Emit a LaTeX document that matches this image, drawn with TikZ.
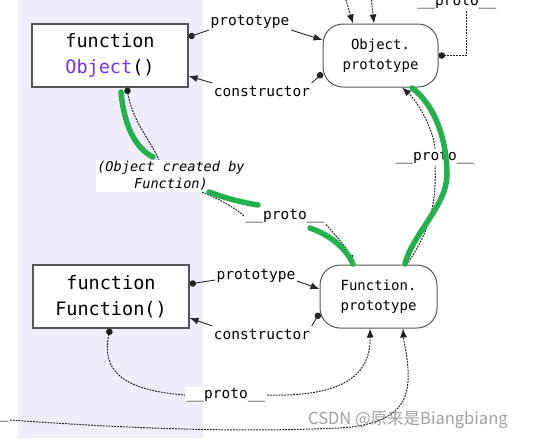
\documentclass[tikz,border=0pt]{standalone}
\usepackage{fontspec}
\setmainfont{DejaVu Sans}
\newfontfamily\monofont{DejaVu Sans Mono}
\newfontfamily\cjkfont{Noto Sans CJK SC}
\usetikzlibrary{arrows.meta}
\definecolor{band}{HTML}{F0ECFD}
\definecolor{objpurple}{HTML}{7A2FF5}
\definecolor{handgreen}{HTML}{22B24C}
\definecolor{edgegray}{HTML}{555555}
\begin{document}
\begin{tikzpicture}[x=1pt,y=-1pt,
  sqbox/.style={draw=edgegray, line width=1.1pt, fill=white, minimum width=156pt, minimum height=63pt, align=center, font=\monofont\fontsize{18.5}{26}\selectfont, inner sep=0pt},
  rbox/.style={draw=edgegray, line width=1pt, fill=white, rounded corners=20pt, minimum height=63pt, align=center, font=\monofont\fontsize{14}{20}\selectfont, inner sep=0pt},
  lbl/.style={font=\monofont\fontsize{14.5}{17}\selectfont, fill=white, inner sep=1.5pt},
  link/.style={line width=0.9pt, draw=black!85},
  dotlink/.style={line width=1pt, draw=black!88, dash pattern=on 1.8pt off 1.1pt},
  arrowend/.style={-{Latex[length=9pt,width=7pt]}},
  dotbegin/.style={{Circle[length=6.5pt]}-},
  handline/.style={draw=handgreen, line width=5.5pt, line cap=round}
]
\useasboundingbox (0,0) rectangle (553,440);
\fill[band] (18,0) rectangle (203,438);

% main nodes
\node[sqbox] (obj) at (110,55.5) {function\\\textcolor{objpurple}{Object}()};
\node[rbox, minimum width=115pt] (op) at (380.5,55.5) {Object.\\prototype};
\node[sqbox] (fn) at (111,296.5) {function\\Function()};
\node[rbox, minimum width=117pt] (fp) at (378.5,296.5) {Function.\\prototype};

% labels
\node[lbl] (lp1) at (250,22) {prototype};
\node[lbl] (lc1) at (262,92) {constructor};
\node[lbl] (lpr1) at (435,157) {\_\_proto\_\_};
\node[lbl, align=center, font=\monofont\itshape\fontsize{13.6}{17}\selectfont] (lcreated) at (171,176) {(Object created by\\Function)};
\node[lbl] (lpr2) at (285,216) {\_\_proto\_\_};
\node[lbl] (lp2) at (256,276) {prototype};
\node[lbl] (lc2) at (262,335) {constructor};
\node[lbl] (lpr3) at (226,395) {\_\_proto\_\_};
\node[lbl] (lpr4) at (457,2) {\_\_proto\_\_};
\node[lbl] (lpr5) at (-31,415) {\_\_proto\_\_};
\coordinate (t1) at (345,-3);
\coordinate (t2) at (371,-3);

% prototype / constructor links (top)
\draw[link, dotbegin] ([yshift=18.5pt]obj.east) -- ([yshift=-8pt]lp1.west);
\draw[link, arrowend] ([yshift=-8pt]lp1.east) -- ([yshift=15.5pt]op.west);
\draw[link, dotbegin] ([yshift=-17.5pt]op.west) -- ([yshift=9pt]lc1.east);
\draw[link, arrowend] ([yshift=9pt]lc1.west) -- ([yshift=-20.5pt]obj.east);

% prototype / constructor links (bottom)
\draw[link, dotbegin] ([yshift=12.5pt]fn.east) -- ([yshift=-4pt]lp2.west);
\draw[link, arrowend] ([yshift=-5pt]lp2.east) -- ([yshift=7.5pt]fp.west);
\draw[link, dotbegin] ([yshift=-16.5pt]fp.west) -- ([yshift=9pt]lc2.east);
\draw[link, arrowend] ([yshift=9pt]lc2.west) -- ([yshift=-21.5pt]fn.east);

% top incoming arrows
\draw[dotlink, arrowend] (t1) -- ([xshift=-27.5pt]op.north);
\draw[dotlink, arrowend] (t2) -- ([xshift=-6.5pt]op.north);

% Object.prototype __proto__
\draw[dotlink, dotbegin] (op.east) -| ([xshift=9pt]lpr4.south);

% Object's __proto__ -> Function.prototype
\draw[dotlink, dotbegin] ([xshift=17pt]obj.south) .. controls (132,120) and (150,140) .. ([xshift=-12pt]lcreated.north);
\draw[dotlink] ([xshift=31pt]lcreated.south) .. controls (222,200) and (235,208) .. (lpr2.west);
\draw[dotlink, arrowend] (lpr2.south east) .. controls (335,235) and (348,248) .. ([xshift=-26.5pt]fp.north);

% Function.prototype __proto__ -> Object.prototype
\draw[dotlink] ([xshift=28pt]fp.north) .. controls (428,235) and (437,205) .. (lpr1.south);
\draw[dotlink, arrowend] (lpr1.north) .. controls (433,128) and (418,102) .. ([xshift=21.5pt]op.south);

% Function's __proto__ -> Function.prototype
\draw[dotlink, dotbegin] ([xshift=-1pt]fn.south) .. controls (102,368) and (118,390) .. (lpr3.west);
\draw[dotlink, arrowend] (lpr3.east) .. controls (338,397) and (371,378) .. ([xshift=-8.5pt]fp.south);

% long bottom line
\draw[dotlink, arrowend] ([yshift=-5pt]lpr5.east) .. controls (150,430) and (250,432) .. (340,428)
   .. controls (398,424) and (410,402) .. (408,370) .. controls (407,352) and (404,345) .. ([xshift=24.5pt]fp.south);

% hand-drawn green strokes
\draw[handline] (121,92) .. controls (124,125) and (135,148) .. (153,157);
\draw[handline] (209,192) .. controls (225,198) and (240,202) .. (258,205);
\draw[handline] (310,228) .. controls (330,235) and (346,248) .. (353,264);
\draw[handline] (412,88) .. controls (435,105) and (447,140) .. (447,175) .. controls (447,205) and (412,235) .. (405,264);

% watermark
\node[font=\cjkfont\fontsize{16.5}{18}\selectfont, text=gray, text opacity=0.75, anchor=west, inner sep=0pt] (wm) at (308,420) {CSDN @原来是Biangbiang};
\end{tikzpicture}
\end{document}
